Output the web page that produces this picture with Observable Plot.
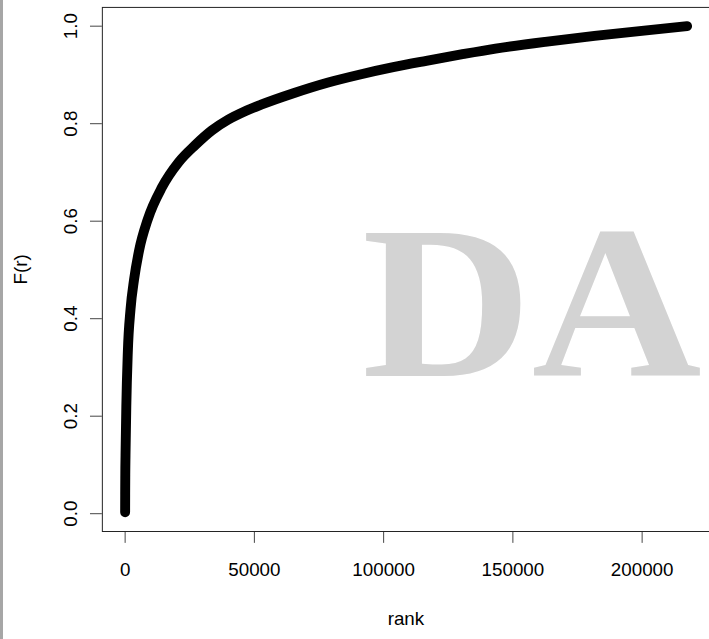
<!DOCTYPE html>
<html>
<head>
<meta charset="utf-8">
<script src="https://cdn.jsdelivr.net/npm/d3@7"></script>
<script src="https://cdn.jsdelivr.net/npm/@observablehq/plot@0.6"></script>
<style>
  html, body { margin: 0; padding: 0; background: #fff; overflow: hidden; width: 709px; height: 639px; }
  #wrap { position: relative; width: 709px; height: 639px; overflow: hidden; }
  #bar { position: absolute; left: 0; top: 0; width: 3px; height: 639px; background: #a6a6a6; }
</style>
</head>
<body>
<div id="wrap"><div id="chart"></div><div id="bar"></div></div>
<script>
// ranks
const ranks = [1, 20, 60, 150, 460, 1030, 2100, 3450, 5400, 8700, 14300, 20700, 27100, 33500, 39800, 46200, 52600, 65400, 78200, 90900, 103700, 116500, 130000, 143300, 162500, 181600, 200800, 217400];
// cumulative share F(r) at those ranks
const shares = [0.003, 0.04, 0.08, 0.12, 0.221, 0.33, 0.42, 0.48, 0.54, 0.603, 0.670, 0.721, 0.756, 0.786, 0.808, 0.825, 0.839, 0.863, 0.884, 0.901, 0.916, 0.929, 0.942, 0.954, 0.968, 0.980, 0.991, 1.0];
const xTicks = [0, 50000, 100000, 150000, 200000];
const yTicks = [0.0, 0.2, 0.4, 0.6, 0.8, 1.0];
const xTitle = "rank";
const yTitle = "F(r)";
const watermark = "DA";

const data = ranks.map((r, i) => ({rank: r, F: shares[i]}));
const font = "'Liberation Sans', Arial, sans-serif";

const chart = Plot.plot({
  width: 717,
  height: 639,
  marginLeft: 103,
  marginRight: 0,
  marginTop: 7,
  marginBottom: 102,
  style: {fontFamily: font, fontSize: "19px", color: "#000", background: "transparent"},
  x: {domain: [-8812, 226054]},
  y: {domain: [-0.0365, 1.0385]},
  marks: [
    Plot.axisX({ticks: xTicks, tickSize: 12, tickPadding: 20, tickFormat: d3.format("d"), stroke: "#444", fontSize: 19, label: null}),
    Plot.axisY({ticks: yTicks, tickSize: 12, tickPadding: 14, tickRotate: -90, tickFormat: d3.format(".1f"), stroke: "#444", fontSize: 19, label: null}),
    Plot.frame({stroke: "#222"}),
    Plot.line(data, {x: "rank", y: "F", stroke: "black", strokeWidth: 10, strokeLinecap: "round", strokeLinejoin: "round", curve: "monotone-x"}),
    Plot.text([xTitle], {frameAnchor: "bottom", dy: 95, lineAnchor: "bottom", textAnchor: "middle", fontSize: 19, fill: "#000"}),
    Plot.text([yTitle], {frameAnchor: "left", dx: -76, rotate: -90, lineAnchor: "bottom", textAnchor: "middle", fontSize: 19, fill: "#000"})
  ]
});

const svg = d3.select(chart);
svg.insert("text", ":first-child")
  .attr("transform", "translate(366,380) scale(1.081,1)")
  .attr("text-anchor", "start")
  .attr("font-family", "'Liberation Serif', 'Times New Roman', serif")
  .attr("font-weight", "bold")
  .attr("font-size", 220)
  .attr("fill", "#d3d3d3")
  .text(watermark);

document.getElementById("chart").appendChild(chart);
</script>
</body>
</html>
